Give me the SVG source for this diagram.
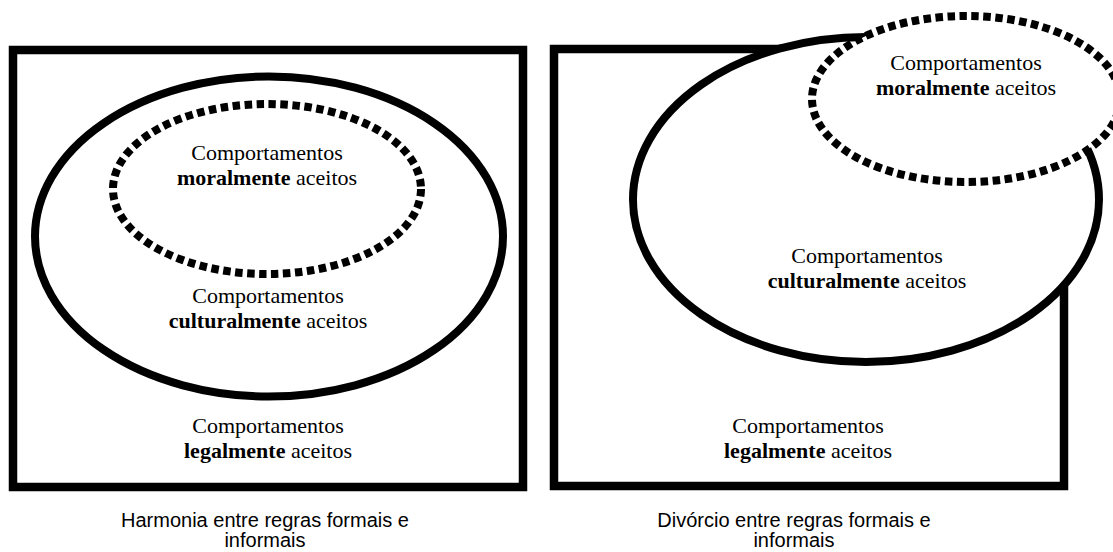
<svg xmlns="http://www.w3.org/2000/svg" width="1113" height="552" viewBox="0 0 1113 552">
<style>
.box{fill:none;stroke:#000;stroke-width:8.5}
.big{fill:#fff;stroke:#000;stroke-width:8}
.dot{fill:#fff;stroke:#000;stroke-width:8;stroke-dasharray:7.5 4.5}
.lbl{font-family:"Liberation Serif","Times New Roman",serif;font-size:22px;fill:#000;text-anchor:middle}
.lbl tspan.b{font-weight:bold}
.cap{font-family:"Liberation Sans",Arial,sans-serif;font-size:20px;fill:#000;text-anchor:middle}
</style>
<rect width="1113" height="552" fill="#fff"/>
<g id="connectors"></g>
<g id="left-panel">
  <g id="left-legal"><rect class="box" x="13" y="50" width="510" height="437"/>
    <text class="lbl" x="268" y="433">Comportamentos</text>
    <text class="lbl" x="268" y="458"><tspan class="b">legalmente</tspan> aceitos</text></g>
  <g id="left-cultural"><ellipse class="big" cx="269" cy="236.5" rx="234" ry="160"/>
    <text class="lbl" x="268" y="303">Comportamentos</text>
    <text class="lbl" x="268" y="328"><tspan class="b">culturalmente</tspan> aceitos</text></g>
  <g id="left-moral"><ellipse class="dot" cx="267" cy="189" rx="154" ry="85"/>
    <text class="lbl" x="267" y="160">Comportamentos</text>
    <text class="lbl" x="267" y="185"><tspan class="b">moralmente</tspan> aceitos</text></g>
  <g id="left-caption">
    <text class="cap" x="265" y="527">Harmonia entre regras formais e</text>
    <text class="cap" x="265" y="547">informais</text></g>
</g>
<g id="right-panel">
  <g id="right-legal"><rect class="box" x="554" y="49" width="510" height="437"/>
    <text class="lbl" x="808" y="433">Comportamentos</text>
    <text class="lbl" x="808" y="458"><tspan class="b">legalmente</tspan> aceitos</text></g>
  <g id="right-cultural"><ellipse class="big" cx="866" cy="199.5" rx="233" ry="162.5"/>
    <text class="lbl" x="867" y="263">Comportamentos</text>
    <text class="lbl" x="867" y="288"><tspan class="b">culturalmente</tspan> aceitos</text></g>
  <g id="right-moral"><ellipse class="dot" cx="966" cy="99" rx="154" ry="83"/>
    <text class="lbl" x="966" y="70">Comportamentos</text>
    <text class="lbl" x="966" y="95"><tspan class="b">moralmente</tspan> aceitos</text></g>
  <g id="right-caption">
    <text class="cap" x="794" y="527">Divórcio entre regras formais e</text>
    <text class="cap" x="794" y="547">informais</text></g>
</g>
</svg>
